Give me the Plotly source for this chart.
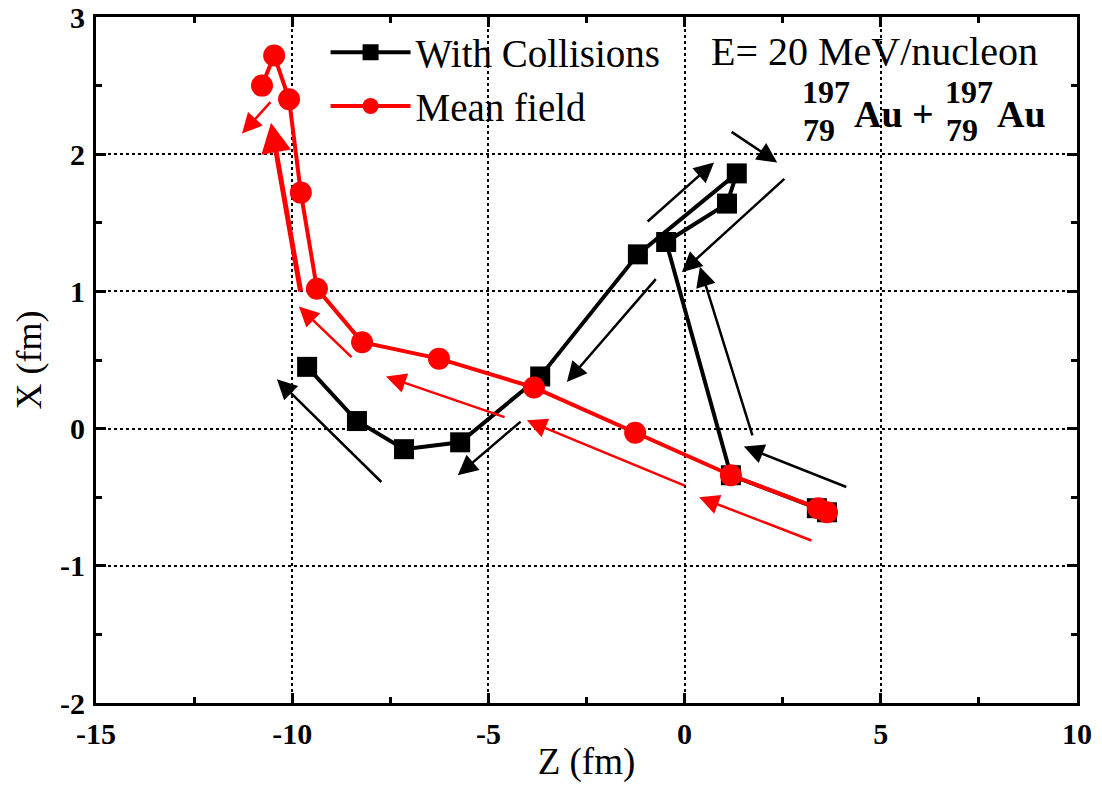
import plotly.graph_objects as go

# ---- data (Z, X in fm) ----
z_coll = [3.63, 3.37, 1.18, -0.47, 1.08, 1.33, -1.19, -3.68, -5.72, -7.15, -8.35, -9.62]
x_coll = [-0.61, -0.58, -0.34, 1.36, 1.64, 1.86, 1.27, 0.38, -0.10, -0.15, 0.055, 0.45]

z_mf = [3.63, 3.40, 1.18, -1.26, -3.84, -6.26, -8.22, -9.37, -9.78, -10.08, -10.46, -10.77]
x_mf = [-0.61, -0.58, -0.34, -0.03, 0.30, 0.51, 0.63, 1.02, 1.72, 2.40, 2.72, 2.50]

# direction arrows (tail -> head), in data units
arrow_tail_z = [-7.69, -4.14, -0.70, -0.98, 1.16, 2.58, 1.74, 4.16,
                -10.52, -9.78, -8.45, -4.55, 0.04, 3.27]
arrow_tail_x = [-0.40, 0.06, 1.10, 1.50, 2.17, 1.83, -0.06, -0.43,
                2.39, 0.99, 0.51, 0.08, -0.42, -0.82]
arrow_head_z = [-10.39, -5.78, -3.00, 0.75, 2.36, -0.07, 0.39, 1.51,
                -11.28, -10.54, -9.83, -7.61, -4.02, 0.37]
arrow_head_x = [0.36, -0.34, 0.34, 1.94, 1.94, 1.14, 1.18, -0.13,
                2.15, 2.23, 0.89, 0.38, 0.06, -0.50]
arrow_color = ["black"] * 8 + ["red"] * 6
arrow_width = [2.5] * 8 + [2.5, 5, 2.5, 2.5, 2.5, 2.5]

series_names = ["With Collisions", "Mean field"]
x_ticks = [-15, -10, -5, 0, 5, 10]
x_ticktext = ["-15", "-10", "-5", "0", "5", "10"]
y_ticks = [-2, -1, 0, 1, 2, 3]
y_ticktext = ["-2", "-1", "0", "1", "2", "3"]

FONT = "Liberation Serif"

fig = go.Figure()
fig.add_trace(go.Scatter(
    x=z_coll, y=x_coll, mode="lines+markers", name=series_names[0],
    line=dict(color="black", width=4),
    marker=dict(symbol="square", size=20, color="black"),
))
fig.add_trace(go.Scatter(
    x=z_mf, y=x_mf, mode="lines+markers", name=series_names[1],
    line=dict(color="red", width=4),
    marker=dict(symbol="circle", size=22, color="red"),
))

for tz, tx, hz, hx, c, w in zip(arrow_tail_z, arrow_tail_x, arrow_head_z,
                                arrow_head_x, arrow_color, arrow_width):
    fig.add_annotation(
        x=hz, y=hx, ax=tz, ay=tx, xref="x", yref="y", axref="x", ayref="y",
        text="", showarrow=True, arrowhead=2, arrowsize=1.6 if w < 4 else 1.2,
        arrowwidth=w, arrowcolor=c, standoff=0,
    )

# text labels
def ptxt(x, y, text, size, bold=False, yanchor="middle"):
    fig.add_annotation(
        x=x, y=y, xref="paper", yref="paper", xanchor="left", yanchor=yanchor,
        text=text, showarrow=False, borderpad=0,
        font=dict(family=FONT, size=size, color="black",
                  weight="bold" if bold else "normal"),
    )

ptxt(0.626, 0.949, "E= 20 MeV/nucleon", 40)
# nuclear symbols: mass number above, charge number below
y_split = (703 - 111) / 686
ptxt(0.719, y_split, "197", 32, True, "bottom")
ptxt(0.720, y_split, "79", 32, True, "top")
ptxt(0.772, 0.859, "Au +", 38, True)
ptxt(0.864, y_split, "197", 32, True, "bottom")
ptxt(0.865, y_split, "79", 32, True, "top")
ptxt(0.917, 0.859, "Au", 38, True)

axis_common = dict(
    showline=True, linewidth=3, linecolor="black", mirror="ticks",
    ticks="inside", ticklen=10, tickwidth=3, tickcolor="black",
    showgrid=True, gridcolor="black", griddash="dot", gridwidth=2,
    zeroline=False, automargin=False,
    tickfont=dict(family=FONT, size=30, color="black", weight="bold"),
)

fig.update_xaxes(
    range=[-15, 10], tickvals=x_ticks, ticktext=x_ticktext,
    ticklabelstandoff=2,
    minor=dict(ticks="inside", ticklen=6, tickwidth=3, tickcolor="black",
               dtick=2.5, showgrid=False),
    title=dict(text="Z (fm)", font=dict(family=FONT, size=37, color="black"), standoff=0),
    **axis_common,
)
fig.update_yaxes(
    range=[-2, 3], tickvals=y_ticks, ticktext=y_ticktext,
    ticklabelstandoff=2,
    minor=dict(ticks="inside", ticklen=6, tickwidth=3, tickcolor="black",
               dtick=0.5, showgrid=False),
    title=dict(text="X (fm)", font=dict(family=FONT, size=36, color="black"), standoff=8),
    **axis_common,
)

fig.update_layout(
    width=1102, height=785,
    margin=dict(l=96, r=25, t=17, b=82),
    plot_bgcolor="white", paper_bgcolor="white",
    font=dict(family=FONT, color="black"),
    legend=dict(x=0.234, y=0.995, xanchor="left", yanchor="top",
                bgcolor="rgba(0,0,0,0)", font=dict(family=FONT, size=39),
                itemwidth=80, tracegroupgap=0),
    showlegend=True,
)

fig.write_html("out.html", config={"displayModeBar": False},
               post_script="document.body.style.margin='0';")
